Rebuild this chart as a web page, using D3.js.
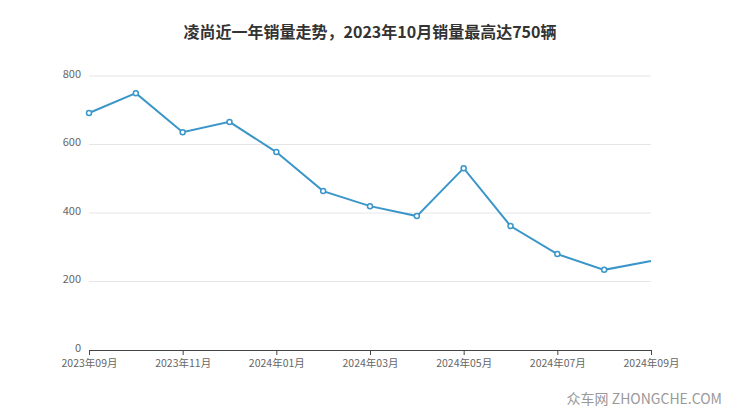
<!DOCTYPE html>
<html><head><meta charset="utf-8">
<script src="https://cdn.jsdelivr.net/npm/d3@7"></script>
<style>body{margin:0;background:#fff;font-family:"Noto Sans CJK SC","Noto Sans",sans-serif}</style>
</head><body><div id="chart"></div>
<script>
const months = ["2023-09","2023-10","2023-11","2023-12","2024-01","2024-02","2024-03","2024-04","2024-05","2024-06","2024-07","2024-08","2024-09"];
const sales = [692, 750, 636, 666, 578, 464, 420, 391, 531, 362, 280, 234, 260];
const yTicks = [0, 200, 400, 600, 800];

const W = 740, H = 417;
const margin = { top: 76, right: 89, bottom: 67, left: 89 };
const width = W - margin.left - margin.right, height = H - margin.top - margin.bottom;

const svg = d3.select("#chart").append("svg").attr("width", W).attr("height", H);

svg.append("text").attr("x", W / 2).attr("y", 38).attr("text-anchor", "middle")
	.style("font-size", "16px").style("font-weight", "bold").attr("fill", "#333")
	.text("凌尚近一年销量走势，2023年10月销量最高达750辆");

const g = svg.append("g").attr("transform", `translate(${margin.left},${margin.top})`);

const x = d3.scalePoint().domain(months).range([0, width]);
const y = d3.scaleLinear().domain([0, 800]).range([height, 0]);

// grid
g.selectAll(".grid").data(yTicks.slice(1)).join("line")
	.attr("x1", 0).attr("x2", width)
	.attr("y1", d => y(d)).attr("y2", d => y(d))
	.attr("stroke", "#e6e6e6");

g.selectAll(".yl").data(yTicks).join("text")
	.attr("x", -8).attr("y", d => y(d) - 2).attr("dy", "0.35em")
	.attr("text-anchor", "end").style("font-size", "11px").attr("fill", "#666")
	.text(d => d);

// x axis
const xAxis = g.append("g").attr("transform", `translate(0,${height})`)
	.call(d3.axisBottom(x).tickValues(months.filter((d, i) => i % 2 === 0))
		.tickSize(5).tickPadding(5).tickFormat(d => d.replace("-", "年") + "月"));
xAxis.select(".domain").attr("stroke", "#444");
xAxis.selectAll(".tick line").attr("stroke", "#444");
xAxis.selectAll("text").style("font-size", "10.5px").attr("fill", "#666")
	.style("font-family", "'Noto Sans CJK SC',sans-serif");

g.append("path").datum(sales)
	.attr("fill", "none").attr("stroke", "#3a96c9").attr("stroke-width", 2)
	.attr("d", d3.line().x((d, i) => x(months[i])).y(d => y(d)));

g.selectAll(".pt").data(sales.slice(0, -1)).join("circle")
	.attr("cx", (d, i) => x(months[i])).attr("cy", d => y(d)).attr("r", 2.5)
	.attr("fill", "#fff").attr("stroke", "#3a96c9").attr("stroke-width", 1.5);

svg.append("text").attr("x", 722).attr("y", 404).attr("text-anchor", "end")
	.style("font-size", "14px").attr("fill", "#999").text("众车网 ZHONGCHE.COM");
</script></body></html>
